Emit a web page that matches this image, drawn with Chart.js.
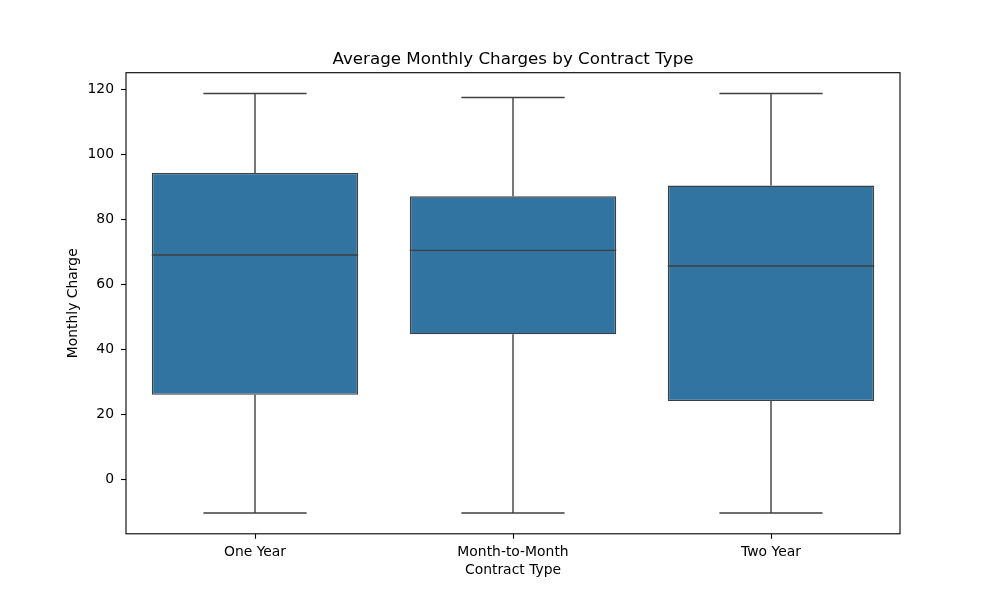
<!DOCTYPE html>
<html>
<head>
<meta charset="utf-8">
<script src="https://cdn.jsdelivr.net/npm/chart.js@4/dist/chart.umd.min.js"></script>
<style>
html,body{margin:0;padding:0;background:#fff;}
#wrap{width:1000px;height:600px;}
</style>
</head>
<body>
<div id="wrap"><canvas id="c" width="1000" height="600"></canvas></div>
<script>
const categories = ['One Year', 'Month-to-Month', 'Two Year'];
const lowWhisker = [-10.2, -10.2, -10.2];
const q1Values = [26.1, 44.7, 24.2];
const medianValues = [69.1, 70.5, 65.7];
const q3Values = [94.3, 87.1, 90.4];
const highWhisker = [118.7, 117.5, 118.7];
const yTicks = [0, 20, 40, 60, 80, 100, 120];

const FONT = 'DejaVu Sans';
const LINE = '#3f3f3f';

const boxPlugin = {
  id: 'boxParts',
  afterDatasetsDraw(chart) {
    const ctx = chart.ctx;
    const meta = chart.getDatasetMeta(0);
    const ys = chart.scales.y;
    ctx.save();
    ctx.strokeStyle = LINE;
    ctx.lineWidth = 1.4;
    meta.data.forEach((bar, i) => {
      const cx = bar.x;
      const w = bar.width;
      const yLow = ys.getPixelForValue(lowWhisker[i]);
      const yHigh = ys.getPixelForValue(highWhisker[i]);
      const yQ1 = ys.getPixelForValue(q1Values[i]);
      const yQ3 = ys.getPixelForValue(q3Values[i]);
      const yMed = ys.getPixelForValue(medianValues[i]);
      ctx.beginPath();
      ctx.moveTo(cx, yQ3); ctx.lineTo(cx, yHigh);
      ctx.moveTo(cx, yQ1); ctx.lineTo(cx, yLow);
      ctx.moveTo(cx - w / 4, yHigh); ctx.lineTo(cx + w / 4, yHigh);
      ctx.moveTo(cx - w / 4, yLow); ctx.lineTo(cx + w / 4, yLow);
      ctx.moveTo(cx - w / 2, yMed); ctx.lineTo(cx + w / 2, yMed);
      ctx.stroke();
    });
    const a = chart.chartArea;
    ctx.strokeStyle = '#000';
    ctx.lineWidth = 1.1;
    ctx.strokeRect(a.left, a.top, a.right - a.left, a.bottom - a.top);
    ctx.restore();
  }
};

new Chart(document.getElementById('c'), {
  type: 'bar',
  data: {
    labels: categories,
    datasets: [{
      data: categories.map((_, i) => [q1Values[i], q3Values[i]]),
      backgroundColor: '#3274a1',
      borderColor: LINE,
      borderWidth: 1.4,
      borderSkipped: false,
      barPercentage: 0.8,
      categoryPercentage: 1.0
    }]
  },
  options: {
    responsive: false,
    animation: false,
    devicePixelRatio: 1,
    layout: { padding: { left: 0, right: 100, top: 0, bottom: 0 } },
    plugins: {
      legend: { display: false },
      tooltip: { enabled: false },
      title: { display: false }
    },
    scales: {
      x: {
        type: 'category',
        offset: true,
        grid: { display: true, drawOnChartArea: false, offset: false, tickLength: 5, tickColor: '#000', tickWidth: 1.1 },
        border: { display: false },
        ticks: { color: '#000', padding: 5, font: { family: FONT, size: 13.9 } },
        title: {
          display: true, text: 'Contract Type', color: '#000',
          font: { family: FONT, size: 13.9, lineHeight: 1.2 },
          padding: { top: 0, bottom: 21.3 }
        },
        afterFit(scale) { scale.height = 66.2; }
      },
      xTop: {
        type: 'category',
        position: 'top',
        offset: true,
        grid: { display: false },
        border: { display: false },
        ticks: { display: false },
        title: {
          display: true, text: 'Average Monthly Charges by Contract Type', color: '#000',
          font: { family: FONT, size: 16.7, weight: 'normal', lineHeight: 1.2 },
          padding: { top: 50, bottom: 0 }
        },
        afterFit(scale) { scale.height = 72.7; }
      },
      y: {
        type: 'linear',
        min: -16.6,
        max: 125.1,
        afterBuildTicks(scale) { scale.ticks = yTicks.map(v => ({ value: v })); },
        grid: { display: true, drawOnChartArea: false, tickLength: 5, tickColor: '#000', tickWidth: 1.1 },
        border: { display: false },
        ticks: { color: '#000', padding: 7, font: { family: FONT, size: 13.9 } },
        title: {
          display: true, text: 'Monthly Charge', color: '#000',
          font: { family: FONT, size: 13.9, lineHeight: 1.2 },
          padding: { top: 64.9, bottom: 0 }
        },
        afterFit(scale) { scale.width = 126; }
      }
    }
  },
  plugins: [boxPlugin]
});
</script>
</body>
</html>
